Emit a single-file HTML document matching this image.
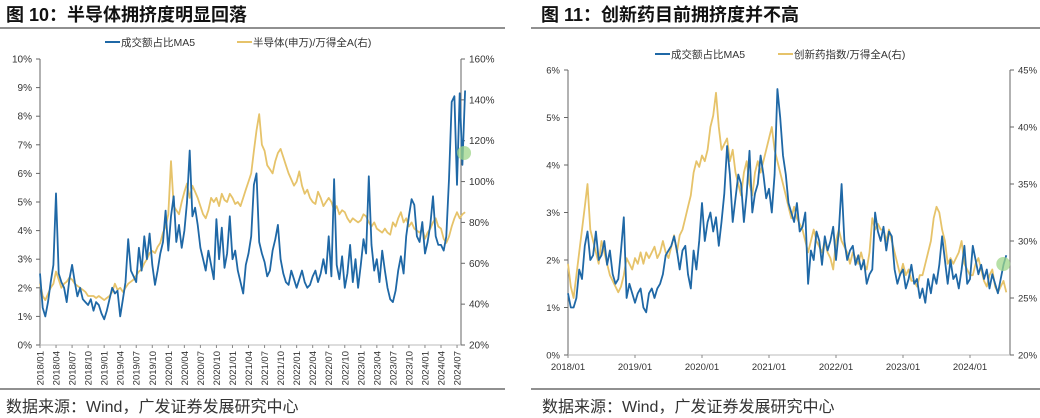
<!DOCTYPE html>
<html><head><meta charset="utf-8"><style>
body{margin:0;background:#fff;width:1040px;height:418px;overflow:hidden;font-family:"Liberation Sans","Noto Sans CJK SC",sans-serif}
svg{position:absolute;left:0;top:0}
</style></head><body>
<svg id="s" width="1040" height="418" xmlns="http://www.w3.org/2000/svg">
<text x="6" y="21" font-size="18" font-weight="bold" fill="#111" font-family="Liberation Sans,Noto Sans CJK SC,sans-serif">图  10：半导体拥挤度明显回落</text>
<line x1="0" y1="28" x2="505" y2="28" stroke="#222" stroke-width="1"/>
<text x="541" y="21" font-size="18" font-weight="bold" fill="#111" font-family="Liberation Sans,Noto Sans CJK SC,sans-serif">图  11：创新药目前拥挤度并不高</text>
<line x1="531" y1="28" x2="1040" y2="28" stroke="#222" stroke-width="1"/>
<line x1="0" y1="389" x2="505" y2="389" stroke="#222" stroke-width="1"/>
<line x1="531" y1="389" x2="1040" y2="389" stroke="#222" stroke-width="1"/>
<text x="6" y="412" font-size="16" fill="#333">数据来源：Wind，广发证券发展研究中心</text>
<text x="542" y="412" font-size="16" fill="#333">数据来源：Wind，广发证券发展研究中心</text>
<g id="L"></g><g id="R"></g>
</svg>
<script>
const NS='http://www.w3.org/2000/svg';
const leftLeftTicks=['0%','1%','2%','3%','4%','5%','6%','7%','8%','9%','10%'];
const leftRightTicks=['20%','40%','60%','80%','100%','120%','140%','160%'];
const leftXLabels=['2018/01','2018/04','2018/07','2018/10','2019/01','2019/04','2019/07','2019/10','2020/01','2020/04','2020/07','2020/10','2021/01','2021/04','2021/07','2021/10','2022/01','2022/04','2022/07','2022/10','2023/01','2023/04','2023/07','2023/10','2024/01','2024/04','2024/07'];
const leftBlue=[2.5,1.3,1.0,1.5,2.2,2.8,5.3,2.5,2.2,2.0,1.5,2.3,2.8,2.2,1.7,2.0,1.6,1.5,1.4,1.6,1.2,1.5,1.4,1.1,
0.9,1.2,1.6,2.0,1.8,1.9,1.0,1.6,2.2,3.7,2.6,2.4,2.2,3.4,2.6,3.8,3.0,3.9,2.8,2.1,2.6,3.2,3.6,4.7,
3.3,4.5,5.2,3.6,4.2,3.4,4.0,5.0,6.8,4.5,4.8,4.2,3.4,3.0,2.6,3.3,2.8,2.3,4.4,3.0,4.1,2.7,3.2,4.5,
3.0,3.3,2.6,2.2,1.8,2.8,3.2,3.8,5.6,6.0,3.6,3.2,2.9,2.4,2.6,3.3,3.7,4.2,3.0,2.5,2.2,2.1,2.6,2.3,
2.0,2.3,2.6,2.2,2.0,2.1,2.4,2.6,2.2,2.5,3.0,2.5,3.8,2.4,5.8,2.8,2.3,3.1,2.0,2.5,3.5,2.2,3.0,2.0,
2.8,3.7,3.2,5.9,3.5,2.6,3.0,2.2,3.3,2.6,2.0,1.6,1.5,1.9,2.6,3.1,2.5,3.8,4.5,5.1,4.9,3.8,3.6,4.3,
3.2,3.6,4.2,5.2,3.8,3.5,3.5,3.3,3.8,5.8,8.5,8.7,5.6,8.8,6.3,8.9];
const leftYellow=[50,44,42,45,48,50,56,52,48,50,51,53,52,50,49,48,47,46,44,44,44,43,44,43,
42,43,44,46,50,47,48,46,48,50,51,52,54,56,57,60,62,65,66,65,68,70,75,78,
84,110,88,86,84,90,95,99,92,98,95,92,88,84,82,86,92,90,92,88,94,91,90,94,
92,89,90,88,92,96,100,104,115,125,133,118,115,108,106,104,110,114,116,112,108,104,101,98,
100,105,98,94,96,92,90,89,95,92,88,90,92,90,86,88,84,86,85,82,80,82,81,80,
81,84,83,80,78,80,77,76,75,77,75,74,80,78,82,85,80,82,78,80,77,76,75,77,
72,75,77,80,82,78,77,72,70,73,78,82,85,82,84,85];
const rightLeftTicks=['0%','1%','2%','3%','4%','5%','6%'];
const rightRightTicks=['20%','25%','30%','35%','40%','45%'];
const rightXLabels=['2018/01','2019/01','2020/01','2021/01','2022/01','2023/01','2024/01'];
const rightBlue=[1.3,1.0,1.0,1.2,1.8,1.6,2.3,2.6,2.0,2.1,2.6,2.0,2.1,2.4,1.9,2.2,1.7,1.5,1.6,2.2,2.9,1.2,1.5,1.3,
1.1,1.3,1.4,1.0,0.9,1.3,1.4,1.2,1.4,1.5,1.7,2.1,2.2,2.3,2.5,2.2,1.8,2.2,2.3,1.7,1.4,2.2,1.8,2.4,
3.2,2.4,2.8,3.0,2.6,2.9,2.3,2.8,3.4,4.4,3.8,2.8,3.3,3.8,3.6,2.8,3.4,4.3,3.0,3.4,3.6,4.2,3.8,3.3,
3.5,3.0,3.8,5.6,5.0,4.2,3.8,3.2,3.0,2.8,3.2,2.6,2.7,3.0,1.5,2.2,2.0,2.6,2.4,1.9,2.5,2.2,2.4,2.7,
2.0,2.6,3.6,2.4,2.0,2.2,2.3,1.9,2.1,1.8,2.0,1.5,1.7,1.8,3.0,2.6,2.4,2.7,2.2,2.6,2.5,1.8,1.5,1.7,
1.8,1.4,1.6,1.9,1.5,1.6,1.2,1.4,1.1,1.6,1.3,1.7,1.5,1.9,2.5,2.0,1.5,2.0,1.6,1.7,1.4,1.8,2.3,1.5,
1.6,2.3,2.0,1.7,1.9,1.6,1.8,1.4,1.7,1.5,1.3,1.6,1.9,2.1];
const rightYellow=[28,26,25,27,29,31,33,35,31,30,29,28,30,29,28,27,26.5,26,25.5,26,27,28.5,28,27.5,
28.5,28,29,28,29,28.5,29,29.5,28.5,29,30,29,28.5,29.5,30.5,29,30.5,31,32,33,34,36,37,36.5,
37.5,37,38,40,41,43,40,38,38.5,39,37,38,36,35,34,36,37,35,34,36,37,36,37,38,
39,40,38,37,36,35,34,33,32,33,32,31.5,31,30,29,30,31,30,29.5,29,30,29,28.5,27.5,
30,31,30,29.5,29,28,29,28.5,28,29,28,27.5,29,32,31,31.5,31,31,30,31,30,29,28,27,
28,27,27.5,26.5,26.5,26,27,27,28,29,30,32,33,32.5,31,30,28,28.5,28,28.5,29,30,28,27.5,
27,27,28,28.5,27.5,26.5,26,27,27.5,26,25.5,26,26.5,25.5];
const BLUE='#1f68a6',YEL='#e6c36a';
function mk(t,a,p){const e=document.createElementNS(NS,t);for(const k in a)e.setAttribute(k,a[k]);p.appendChild(e);return e;}
function chart(g,o){
  const yl=v=>o.y0-(v-o.lmin)/(o.lmax-o.lmin)*(o.y0-o.y1);
  const yr=v=>o.y0-(v-o.rmin)/(o.rmax-o.rmin)*(o.y0-o.y1);
  const xi=i=>o.x0+i*o.step; // i in half-months
  let a=mk('line',{x1:o.x0,y1:o.y1,x2:o.x0,y2:o.y0,stroke:'#666'},g);
  
  a=mk('line',{x1:o.xr,y1:o.y1,x2:o.xr,y2:o.y0,stroke:'#666'},g);
  
  a=mk('line',{x1:o.x0,y1:o.y0,x2:o.xr,y2:o.y0,stroke:'#bbb'},g);
  
  o.lt.forEach((t,i)=>{const v=o.lmin+i*(o.lmax-o.lmin)/(o.lt.length-1);const y=yl(v);
    mk('line',{x1:o.x0-4,y1:y,x2:o.x0,y2:y,stroke:'#666'},g);
    const e=mk('text',{x:o.x0-8,y:y+3.5,'font-size':o.fs,'text-anchor':'end',fill:'#333'},g);e.textContent=t;
    });
  o.rt.forEach((t,i)=>{const v=o.rmin+i*(o.rmax-o.rmin)/(o.rt.length-1);const y=yr(v);
    mk('line',{x1:o.xr,y1:y,x2:o.xr+4,y2:y,stroke:'#666'},g);
    const e=mk('text',{x:o.xr+8,y:y+3.5,'font-size':o.fs,fill:'#333'},g);e.textContent=t;
    });
  o.xl.forEach((t,i)=>{const x=xi(i*o.xlStep);
    mk('line',{x1:x,y1:o.y0,x2:x,y2:o.y0+3,stroke:'#888'},g);
    let e;
    if(o.rot){e=mk('text',{x:0,y:0,'font-size':9.5,'text-anchor':'end',fill:'#333',transform:`translate(${x+3.5},${o.y0+6}) rotate(-90)`},g);}
    else{e=mk('text',{x:x,y:o.y0+15,'font-size':9.5,'text-anchor':'middle',fill:'#333'},g);}
    e.textContent=t;});
  const pl=(arr,f,c,n)=>{const p=mk('polyline',{points:arr.map((v,i)=>xi(i).toFixed(1)+','+f(v).toFixed(1)).join(' '),fill:'none',stroke:c,'stroke-width':1.8,'stroke-linejoin':'round'},g);
    };
  pl(o.yel,yr,YEL,'ratio-line-right-axis');
  pl(o.blue,yl,BLUE,'turnover-share-ma5-line');
  const last=o.blue.length-1;
  const c=mk('circle',{cx:xi(last)+o.cdx,cy:o.cy,r:7,fill:'#9fd68a','fill-opacity':0.75},g);
  
  // legend
  const lg=mk('g',{},g);
  mk('line',{x1:o.lgx,y1:o.lgy-4,x2:o.lgx+15,y2:o.lgy-4,stroke:BLUE,'stroke-width':2},lg);
  let e=mk('text',{x:o.lgx+16,y:o.lgy,'font-size':10.5,fill:'#333'},lg);e.textContent='成交额占比MA5';
  
  mk('line',{x1:o.lgx2,y1:o.lgy-4,x2:o.lgx2+15,y2:o.lgy-4,stroke:YEL,'stroke-width':2},lg);
  e=mk('text',{x:o.lgx2+16,y:o.lgy,'font-size':10.5,fill:'#333'},lg);e.textContent=o.lg2;
  
}
chart(document.getElementById('L'),{x0:40,xr:461,y0:345,y1:59,lmin:0,lmax:10,rmin:20,rmax:160,
  step:16.04/6,xlStep:6,lt:leftLeftTicks,rt:leftRightTicks,xl:leftXLabels,rot:true,fs:10,
  blue:leftBlue,yel:leftYellow,cdx:-1,cy:153,lgx:105,lgx2:237,lgy:46,lg2:'半导体(申万)/万得全A(右)'});
chart(document.getElementById('R'),{x0:568,xr:1010,y0:355,y1:70,lmin:0,lmax:6,rmin:20,rmax:45,
  step:67/24,xlStep:24,lt:rightLeftTicks,rt:rightRightTicks,xl:rightXLabels,rot:false,fs:9.5,
  blue:rightBlue,yel:rightYellow,cdx:-3,cy:264,lgx:655,lgx2:778,lgy:58,lg2:'创新药指数/万得全A(右)'});
</script>
</body></html>
